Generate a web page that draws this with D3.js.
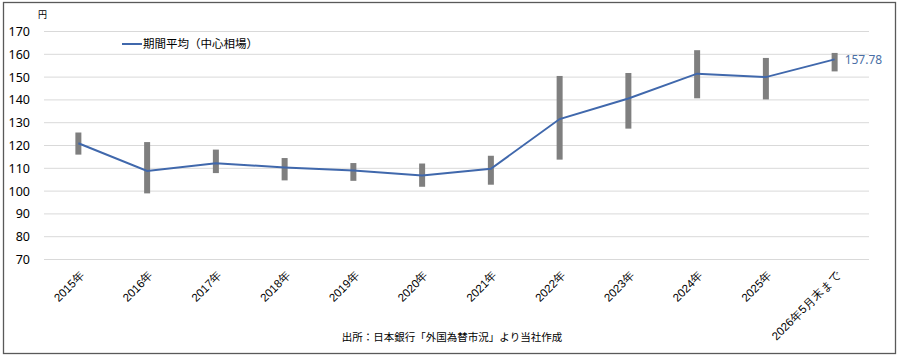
<!DOCTYPE html>
<html>
<head>
<meta charset="utf-8">
<script src="https://cdn.jsdelivr.net/npm/d3@7"></script>
<style>
  html, body { margin: 0; padding: 0; background: #fff; }
  svg { display: block; font-family: "Noto Sans CJK JP", "Noto Sans", sans-serif; }
</style>
</head>
<body>
<div id="chart"></div>
<script>
// data
var categories = ["2015年", "2016年", "2017年", "2018年", "2019年", "2020年",
                  "2021年", "2022年", "2023年", "2024年", "2025年", "2026年5月末まで"];
var averages = [121.0, 108.8, 112.2, 110.4, 109.0, 106.8, 109.8, 131.6, 140.6, 151.5, 150.0, 157.78];
var highs    = [125.7, 121.5, 118.2, 114.5, 112.3, 112.1, 115.5, 150.5, 151.8, 161.8, 158.4, 160.6];
var lows     = [116.0,  99.0, 107.9, 104.7, 104.5, 101.9, 102.8, 113.8, 127.4, 140.7, 140.2, 152.5];
var yTicks = [70, 80, 90, 100, 110, 120, 130, 140, 150, 160, 170];
var legendLabel = "期間平均（中心相場）";
var unitLabel = "円";
var sourceLabel = "出所：日本銀行「外国為替市況」より当社作成";

var width = 900, height = 359;
var svg = d3.select("#chart").append("svg")
    .attr("width", width)
    .attr("height", height);

// outer frame
svg.append("rect")
    .attr("x", 3.5).attr("y", 2.5)
    .attr("width", 892).attr("height", 351)
    .attr("fill", "none")
    .attr("stroke", "#595959")
    .attr("stroke-width", 1.3);

var x = d3.scaleBand()
    .domain(categories)
    .range([44, 869]);

var y = d3.scaleLinear()
    .domain([70, 170])
    .range([259.5, 31.5]);

// gridlines
svg.append("g")
    .selectAll("line")
    .data(yTicks)
    .join("line")
    .attr("x1", 44).attr("x2", 869)
    .attr("y1", function(d) { return y(d); })
    .attr("y2", function(d) { return y(d); })
    .attr("stroke", "#d9d9d9")
    .attr("stroke-width", 1);

// y axis labels
var yAxis = svg.append("g")
    .attr("transform", "translate(38,0)")
    .call(d3.axisLeft(y).tickValues(yTicks).tickSize(0).tickPadding(0));
yAxis.select(".domain").remove();
yAxis.selectAll("text")
    .attr("font-size", 12.5)
    .attr("fill", "#000")
    .attr("font-family", "\"Noto Sans\", sans-serif")
    .attr("x", -8);

// unit
svg.append("text")
    .attr("x", 38).attr("y", 18)
    .attr("font-size", 9)
    .attr("fill", "#000")
    .text(unitLabel);

// x axis labels
var xAxis = svg.append("g")
    .attr("transform", "translate(0,262)")
    .call(d3.axisBottom(x).tickSize(0).tickPadding(0));
xAxis.select(".domain").remove();
xAxis.selectAll("text")
    .attr("font-size", 11.5)
    .attr("fill", "#000")
    .attr("text-anchor", "end")
    .attr("transform", "translate(4,11) rotate(-45)")
    .attr("y", 0)
    .attr("dy", "0.35em");

// high-low bars
svg.append("g")
    .selectAll("rect")
    .data(categories)
    .join("rect")
    .attr("x", function(d) { return x(d) + x.bandwidth() / 2 - 3; })
    .attr("width", 6)
    .attr("y", function(d, i) { return y(highs[i]); })
    .attr("height", function(d, i) { return y(lows[i]) - y(highs[i]); })
    .attr("fill", "#7f7f7f");

// average line
var line = d3.line()
    .x(function(d, i) { return x(categories[i]) + x.bandwidth() / 2; })
    .y(function(d) { return y(d); });

svg.append("path")
    .datum(averages)
    .attr("d", line)
    .attr("fill", "none")
    .attr("stroke", "#4068ac")
    .attr("stroke-width", 2);

// last value label
var last = averages.length - 1;
svg.append("text")
    .attr("x", x(categories[last]) + x.bandwidth() / 2 + 10)
    .attr("y", y(averages[last]))
    .attr("dy", "0.35em")
    .attr("font-size", 12)
    .attr("fill", "#4a6fa5")
    .attr("font-family", "\"Noto Sans\", sans-serif")
    .text(averages[last].toFixed(2));

// legend
svg.append("line")
    .attr("x1", 122).attr("x2", 142)
    .attr("y1", 44).attr("y2", 44)
    .attr("stroke", "#4068ac")
    .attr("stroke-width", 2);
svg.append("text")
    .attr("x", 143).attr("y", 44)
    .attr("dy", "0.35em")
    .attr("font-size", 11.5)
    .attr("fill", "#000")
    .text(legendLabel);

// source
svg.append("text")
    .attr("x", 452).attr("y", 341)
    .attr("text-anchor", "middle")
    .attr("font-size", 10.5)
    .attr("fill", "#000")
    .text(sourceLabel);
</script>
</body>
</html>
